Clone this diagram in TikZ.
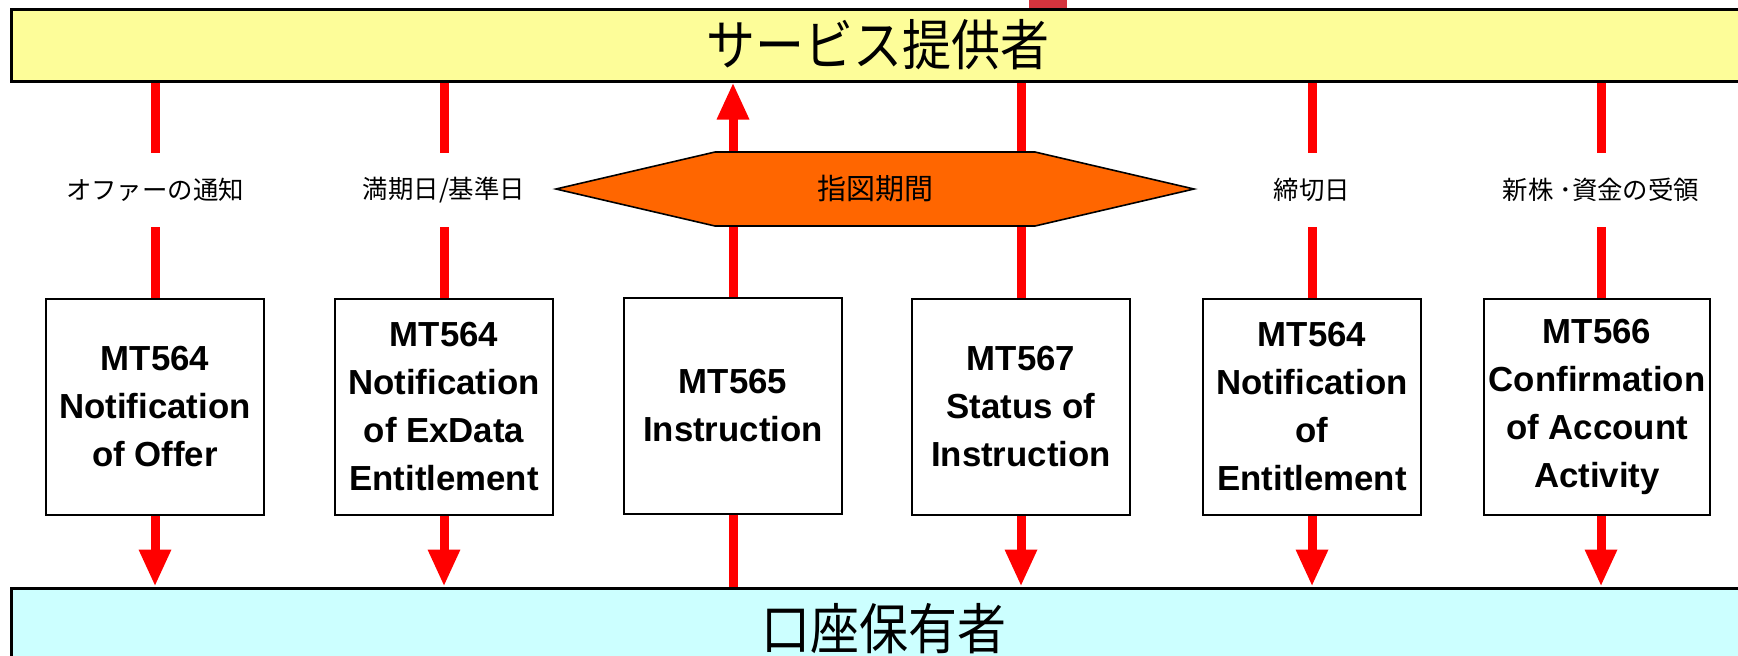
\documentclass[tikz,border=0pt]{standalone}
\usepackage{fontspec}
\setmainfont{Liberation Sans}
\newfontfamily\jp{Noto Sans CJK JP}
\usetikzlibrary{arrows.meta}
\definecolor{bandyellow}{RGB}{253,253,153}
\definecolor{bandcyan}{RGB}{204,255,255}
\definecolor{hexorange}{RGB}{255,102,0}
\definecolor{topred}{RGB}{212,52,62}
\begin{document}
\begin{tikzpicture}[x=0.5pt,y=-0.5pt,
  band/.style={draw=black,line width=1.5pt,minimum width=867pt,minimum height=36pt,inner sep=0pt,font=\jp\fontsize{24.5}{28}\selectfont},
  msgbox/.style={draw=black,line width=1pt,fill=white,minimum width=109pt,minimum height=108pt,inner sep=0pt,align=center,font=\bfseries\fontsize{17.4}{24}\selectfont},
  lab/.style={minimum height=37pt,inner sep=0pt,font=\jp\fontsize{12.7}{15}\selectfont},
  redline/.style={draw=red,line width=4.5pt},
  redarrow/.style={redline,-{Triangle[width=15pt,length=18.5pt]}},
  hexlabel/.style={inner sep=0pt,font=\jp\fontsize{14.5}{17}\selectfont},
]
\useasboundingbox (0,0) rectangle (1738,655);
\clip (0,0) rectangle (1738,655);

% fragment at the top edge
\fill[topred] (1029,0) rectangle (1067,8);

% bands
\node[band,fill=bandyellow] (top) at (878,45) {\scalebox{1}[1.12]{サービス提供者}};
\node[band,fill=bandcyan,minimum width=873pt,minimum height=41pt] (bottom) at (884,629) {\scalebox{1}[1.12]{口座保有者}};

% message boxes
\node[msgbox] (m1) at (155,407) {MT564\\Notification\\of Offer};
\node[msgbox] (m2) at (444,407) {MT564\\Notification\\of ExData\\Entitlement};
\node[msgbox] (m3) at (733,406) {MT565\\Instruction};
\node[msgbox] (m4) at (1021,407) {MT567\\Status of\\Instruction};
\node[msgbox] (m5) at (1312,407) {MT564\\Notification\\of\\Entitlement};
\node[msgbox,minimum width=113pt] (m6) at (1597,407) {MT566\\Confirmation\\of Account\\Activity};

% labels
\node[lab] (l1) at (155,190) {オファーの通知};
\node[lab] (l2) at (444,190) {満期日/基準日};
\node[lab] (l5) at (1312,190) {締切日};
\node[lab] (l6) at (1601,190) {新株 ･資金の受領};

% connectors
\foreach \i in {1,2,5,6} {
  \draw[redline] (top.south -| l\i.north) -- (l\i.north);
  \draw[redline] (l\i.south) -- (l\i.south |- m\i.north);
  \draw[redarrow] (l\i.south |- m\i.south) -- (bottom.north -| l\i.south);
}
\draw[redline] (bottom.north -| m3.south) -- (m3.south);
\draw[redarrow] (m3.north) -- (top.south -| m3.north);
\draw[redline] (top.south -| m4.north) -- (m4.north);
\draw[redarrow] (m4.south) -- (bottom.north -| m4.south);

% instruction period
\path[draw=black,fill=hexorange,line width=0.8pt] (556,189) -- (715,152) -- (1035,152) -- (1194,189) -- (1035,226) -- (715,226) -- cycle;
\node[hexlabel] (period) at (875,189) {指図期間};
\end{tikzpicture}
\end{document}
